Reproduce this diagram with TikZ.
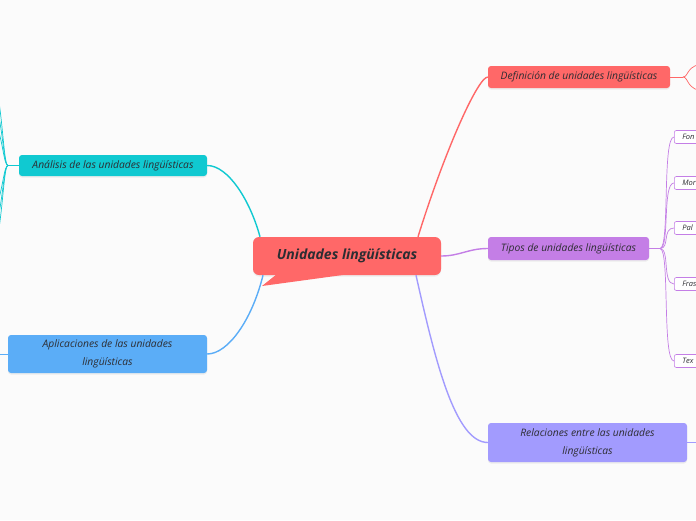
\documentclass[tikz,border=0pt]{standalone}
\usepackage{fontspec}
\setmainfont{Open Sans}
\usetikzlibrary{shadows, positioning}

\definecolor{bgcol}{RGB}{251,251,251}
\definecolor{txtcol}{RGB}{45,45,50}
\definecolor{mainred}{RGB}{255,104,104}
\definecolor{tiposcol}{RGB}{196,126,230}
\definecolor{relcol}{RGB}{162,155,254}
\definecolor{anacol}{RGB}{16,201,209}
\definecolor{aplcol}{RGB}{91,173,247}

\tikzset{
  central/.style = {rectangle, rounded corners=6pt, fill=mainred, align=center, minimum width=188pt, minimum height=38pt, text=txtcol, font=\fontsize{14}{16}\selectfont\bfseries\itshape},
  subtopic/.style = {rectangle, rounded corners=3pt, align=center, inner sep=0pt, text=txtcol, font=\fontsize{10.3}{18}\selectfont\itshape, drop shadow={shadow xshift=0pt, shadow yshift=-1.5pt, opacity=0.12}},
  leaf/.style = {rectangle, rounded corners=2pt, draw=tiposcol, line width=0.6pt, fill=white, anchor=west, minimum height=13pt, text width=40pt, inner xsep=8pt, inner ysep=0pt, align=left, text=txtcol, font=\fontsize{7.5}{8}\selectfont\itshape},
  branch/.style = {line width=1.4pt},
  twig/.style = {line width=0.7pt}
}

\begin{document}
\begin{tikzpicture}[x=1pt, y=-1pt]

\useasboundingbox (0,0) rectangle (696,520);
\fill[bgcol] (0,0) rectangle (696,520);
\clip (0,0) rectangle (696,520);

% Central topic
\node[central, drop shadow={shadow xshift=0pt, shadow yshift=-1.5pt, opacity=0.12}] (main) at (347,256) {Unidades lingüísticas};
\coordinate (tail) at (262,286);
\fill[mainred] (277,274) -- (tail) -- (350,274) -- cycle;

% Main topics
\node[subtopic, fill=mainred, minimum width=182pt, minimum height=22pt] (def) at (579,77) {Definición de unidades lingüísticas};
\node[subtopic, fill=tiposcol, minimum width=161pt, minimum height=23pt] (tipos) at (568.5,248.5) {Tipos de unidades lingüísticas};
\node[subtopic, fill=relcol, minimum width=199pt, minimum height=39pt] (rel) at (587.5,442.5) {Relaciones entre las unidades\\lingüísticas};
\node[subtopic, fill=anacol, minimum width=188pt, minimum height=21pt] (ana) at (113,165.5) {Análisis de las unidades lingüísticas};
\node[subtopic, fill=aplcol, minimum width=199pt, minimum height=38pt] (apl) at (107.5,354) {Aplicaciones de las unidades\\lingüísticas};

% Leaves of Tipos
\node[leaf] (fon) at (674,137) {Fon};
\node[leaf] (mor) at (674,183) {Mor};
\node[leaf] (pal) at (674,228) {Pal};
\node[leaf] (fras) at (674,284) {Fras};
\node[leaf] (tex) at (674,361) {Tex};

% Junctions and cut-off ends
\coordinate (defj) at (683,77);
\coordinate (d1) at (706,64);
\coordinate (d2) at (706,91);
\coordinate (tipj) at (660,248.5);
\coordinate (relc) at (706,442.5);
\coordinate (anaj) at (8,165.5);
\coordinate (aplc) at (-10,354);
\coordinate (a1) at (-30,40);
\coordinate (a2) at (-30,70);
\coordinate (a3) at (-30,100);
\coordinate (a4) at (-30,230);
\coordinate (a5) at (-30,260);
\coordinate (a6) at (-30,290);

% Branches from the central topic
\draw[branch, mainred] ([xshift=71pt]main.north) .. controls (445,150) and (478,77) .. (def.west);
\draw[branch, tiposcol] (main.east) .. controls (460,256) and (468,248.5) .. (tipos.west);
\draw[branch, relcol] ([xshift=69pt]main.south) .. controls (435,360) and (455,442.5) .. (rel.west);
\draw[branch, anacol] ([xshift=-87pt]main.north) .. controls (250,200) and (228,165.5) .. (ana.east);
\draw[branch, aplcol] ([xshift=-84pt]main.south) .. controls (252,320) and (228,354) .. (apl.east);

% Twigs
\draw[twig, mainred] (def.east) -- (defj);
\draw[twig, mainred] (defj) .. controls (689,77) and (686,64) .. (d1);
\draw[twig, mainred] (defj) .. controls (689,77) and (686,91) .. (d2);

\draw[twig, tiposcol] (tipos.east) -- (tipj);
\foreach \leafname in {fon, mor, pal, fras, tex}
  \draw[twig, tiposcol] (tipj) .. controls +(10,0) and +(-12,0) .. (\leafname.west);

\draw[twig, relcol] (rel.east) -- (relc);
\draw[twig, aplcol] (apl.west) -- (aplc);

\draw[twig, anacol] (ana.west) -- (anaj);
\foreach \endname in {a1, a2, a3, a4, a5, a6}
  \draw[twig, anacol] (anaj) .. controls (1,165.5) and +(34,0) .. (\endname);

\end{tikzpicture}
\end{document}
